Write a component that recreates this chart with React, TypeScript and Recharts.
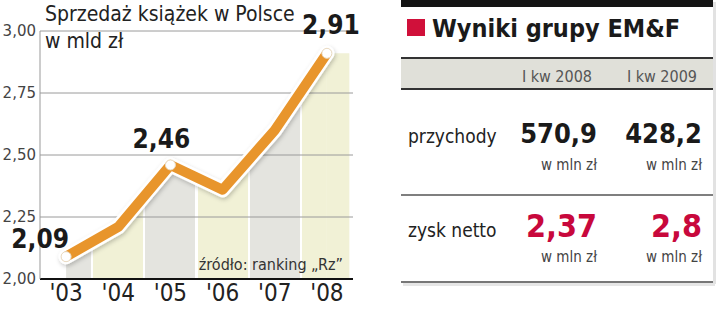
import React from 'react';
import { ComposedChart, Area, Line, XAxis, YAxis, ReferenceLine, ReferenceArea } from 'recharts';

const years = ["'03", "'04", "'05", "'06", "'07", "'08"];
const sales = [2.09, 2.21, 2.46, 2.36, 2.6, 2.91];
const labelledPoints = [0, 2, 5];
const yTicks = [2, 2.25, 2.5, 2.75, 3];

const tableColumns = ['I kw 2008', 'I kw 2009'];
const revenue = [570.9, 428.2];
const netProfit = [2.37, 2.8];

const data = years.map((year, i) => ({ x: i, year, value: sales[i] }));

const COND = "'DejaVu Sans Condensed', 'DejaVu Sans', sans-serif";
const ORANGE = '#E8952C';
const GRAY = '#E4E4DF';
const YELLOW = '#F1F1D6';
const RED = '#C8083C';

const comma = (v: number, d?: number) => (d === undefined ? String(v) : v.toFixed(d)).replace('.', ',');

// label placement around the marked points (dx, dy from the point)
const labelOffset: Record<number, [number, number]> = {
  0: [-26, -18],
  2: [-9, -26],
  5: [4, -28],
};

// horizontal stripes for the area under the line
function stripeStops() {
  const n = sales.length - 1;
  const gap = 0.004;
  const stops: React.ReactElement[] = [];
  sales.forEach((_, i) => {
    const from = Math.max(0, (i - 0.5) / n);
    const to = Math.min(1, (i + 0.5) / n);
    const c = i % 2 === 0 ? GRAY : YELLOW;
    const a = i === 0 ? from : from + gap;
    const b = i === n ? to : to - gap;
    if (i > 0) {
      stops.push(<stop key={`w${i}a`} offset={from - gap} stopColor="#fff" />);
      stops.push(<stop key={`w${i}b`} offset={a} stopColor="#fff" />);
    }
    stops.push(<stop key={`c${i}a`} offset={a} stopColor={c} />);
    stops.push(<stop key={`c${i}b`} offset={b} stopColor={c} />);
  });
  return stops;
}

const PointMark = (props: any) => {
  const { cx, cy, index, value } = props;
  if (!labelledPoints.includes(index)) return <g key={`d${index}`} />;
  const [dx, dy] = labelOffset[index];
  return (
    <g key={`d${index}`}>
      <circle cx={cx} cy={cy} r={5} fill="#fff" stroke="#e9dcc6" strokeWidth={1} />
      <text
        x={cx + dx}
        y={cy + dy}
        textAnchor="middle"
        dominantBaseline="central"
        fontFamily={COND}
        fontWeight="bold"
        fontSize={26}
        fill="#1a1a1a"
      >
        {comma(value, 2)}
      </text>
    </g>
  );
};

function SalesChart() {
  return (
    <ComposedChart width={360} height={309} data={data} margin={{ top: 31, right: 7, bottom: 0, left: 0 }}>
      <defs>
        <linearGradient id="stripes" x1="0" y1="0" x2="1" y2="0">
          {stripeStops()}
        </linearGradient>
        <filter id="lineShadow" x="-10%" y="-10%" width="120%" height="120%">
          <feDropShadow dx="1" dy="2" stdDeviation="2" floodColor="#000" floodOpacity="0.22" />
        </filter>
      </defs>
      <XAxis
        dataKey="x"
        type="number"
        domain={[-0.5, 5.5]}
        ticks={[0, 1, 2, 3, 4, 5]}
        tickFormatter={(i: number) => years[i]}
        height={30}
        tickSize={0}
        tickMargin={5}
        tickLine={false}
        axisLine={{ stroke: '#111', strokeWidth: 2 }}
        tick={{ fontFamily: COND, fontSize: 24, fill: '#222' }}
      />
      <YAxis
        domain={[2, 3]}
        ticks={yTicks}
        width={40}
        tickSize={0}
        tickMargin={4}
        tickLine={false}
        axisLine={{ stroke: '#999', strokeWidth: 1 }}
        tickFormatter={(v: number) => comma(v, 2)}
        tick={{ fontFamily: "'DejaVu Sans', sans-serif", fontSize: 15, fill: '#444' }}
      />
      <ReferenceArea x1={5} x2={5.43} y1={2} y2={sales[5]} fill={YELLOW} fillOpacity={1} stroke="none" zIndex={100} />
      <Area
        dataKey="value"
        type="linear"
        fill="url(#stripes)"
        fillOpacity={1}
        stroke="none"
        isAnimationActive={false}
      />
      {yTicks.slice(1).map((t) => (
        <ReferenceLine key={t} y={t} stroke="#9a9a9a" strokeWidth={1} zIndex={150} />
      ))}
      <Line
        dataKey="value"
        type="linear"
        stroke="#fff"
        strokeWidth={15}
        strokeLinecap="round"
        strokeLinejoin="round"
        filter="url(#lineShadow)"
        dot={false}
        activeDot={false}
        isAnimationActive={false}
      />
      <Line
        dataKey="value"
        type="linear"
        stroke={ORANGE}
        strokeWidth={10}
        strokeLinecap="round"
        strokeLinejoin="round"
        dot={PointMark}
        activeDot={false}
        isAnimationActive={false}
      />
    </ComposedChart>
  );
}

function ResultsTable() {
  const colEnd = [597, 702];
  return (
    <svg width={720} height={309} style={{ position: 'absolute', left: 0, top: 0, pointerEvents: 'none' }}>
      {/* left chart titles */}
      <text x={45} y={21} fontFamily={COND} fontSize={21} fill="#222">Sprzedaż książek w Polsce</text>
      <text x={45} y={48} fontFamily={COND} fontSize={21} fill="#222">w mld zł</text>
      <text x={343} y={270} textAnchor="end" fontFamily={COND} fontSize={16} fill="#333">źródło: ranking „Rz”</text>

      {/* right panel */}
      <rect x={713} y={2} width={3} height={282} fill="#e2e2e2" />
      <rect x={403} y={283} width={312} height={3} fill="#e6e6e6" />
      <rect x={401} y={0} width={312} height={7} fill="#141414" />
      <rect x={407} y={19} width={18} height={17} fill="#D0103A" />
      <text x={432} y={37} fontFamily={COND} fontWeight="bold" fontSize={25} fill="#1a1a1a">Wyniki grupy EM&amp;F</text>

      <rect x={401} y={58} width={312} height={31} fill="#E0E0D9" />
      <line x1={401} x2={713} y1={58} y2={58} stroke="#333" strokeWidth={2} />
      <line x1={401} x2={713} y1={89} y2={89} stroke="#333" strokeWidth={2} />
      {tableColumns.map((c, i) => (
        <text key={c} x={colEnd[i] - 5} y={82} textAnchor="end" fontFamily={COND} fontSize={16} fill="#555">{c}</text>
      ))}

      <text x={408} y={143} fontFamily={COND} fontSize={19} fill="#222">przychody</text>
      {revenue.map((v, i) => (
        <g key={`r${i}`}>
          <text x={colEnd[i]} y={143} textAnchor="end" fontFamily={COND} fontWeight="bold" fontSize={27} fill="#1a1a1a">{comma(v)}</text>
          <text x={colEnd[i]} y={170} textAnchor="end" fontFamily={COND} fontSize={15} fill="#444">w mln zł</text>
        </g>
      ))}
      <line x1={401} x2={713} y1={195} y2={195} stroke="#555" strokeWidth={1.5} />

      <text x={408} y={237} fontFamily={COND} fontSize={19} fill="#222">zysk netto</text>
      {netProfit.map((v, i) => (
        <g key={`p${i}`}>
          <text x={colEnd[i]} y={237} textAnchor="end" fontFamily={COND} fontWeight="bold" fontSize={32} fill={RED}>{comma(v)}</text>
          <text x={colEnd[i]} y={262} textAnchor="end" fontFamily={COND} fontSize={15} fill="#444">w mln zł</text>
        </g>
      ))}
      <line x1={401} x2={713} y1={282} y2={282} stroke="#777" strokeWidth={2} />
    </svg>
  );
}

export default function App() {
  return (
    <div style={{ position: 'absolute', left: 0, top: 0, width: 720, height: 309, background: '#fff', overflow: 'hidden' }}>
      <SalesChart />
      <ResultsTable />
    </div>
  );
}
